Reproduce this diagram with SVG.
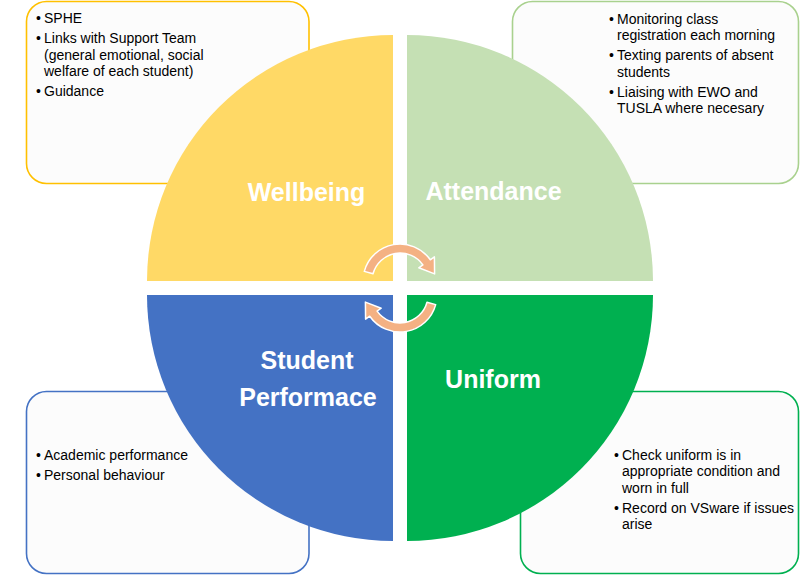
<svg xmlns="http://www.w3.org/2000/svg" width="800" height="575" viewBox="0 0 800 575">
<style>
.box{fill:#FCFCFC;stroke-width:1.6}
.t{font-family:"Liberation Sans",Arial,sans-serif;font-size:14px;fill:#000}
.lbl{font-family:"Liberation Sans",Arial,sans-serif;font-size:25px;font-weight:bold;fill:#FFFFFF;text-anchor:middle}
.arr{fill:#F4B183;stroke:#FFFFFF;stroke-width:1.5;stroke-linejoin:round}
</style>
<rect width="800" height="575" fill="#FFFFFF"/>
<g id="box-wellbeing">
<rect class="box" x="26.5" y="1.5" width="282.5" height="182" rx="20" stroke="#FFC000"/>
<text class="t"><tspan x="36" y="23">•</tspan><tspan x="44" y="23">SPHE</tspan></text>
<text class="t"><tspan x="36" y="43">•</tspan><tspan x="44" y="43">Links with Support Team</tspan><tspan x="44" y="59.5">(general emotional, social</tspan><tspan x="44" y="76">welfare of each student)</tspan></text>
<text class="t"><tspan x="36" y="96">•</tspan><tspan x="44" y="96">Guidance</tspan></text>
</g>
<g id="box-attendance">
<rect class="box" x="512.5" y="1.5" width="286" height="182" rx="20" stroke="#A9D18E"/>
<text class="t"><tspan x="609" y="23.5">•</tspan><tspan x="617" y="23.5">Monitoring class</tspan><tspan x="617" y="40">registration each morning</tspan></text>
<text class="t"><tspan x="609" y="60">•</tspan><tspan x="617" y="60">Texting parents of absent</tspan><tspan x="617" y="76.5">students</tspan></text>
<text class="t"><tspan x="609" y="96.5">•</tspan><tspan x="617" y="96.5">Liaising with EWO and</tspan><tspan x="617" y="113">TUSLA where necesary</tspan></text>
</g>
<g id="box-performance">
<rect class="box" x="26.5" y="391.5" width="282.5" height="182" rx="20" stroke="#4472C4"/>
<text class="t"><tspan x="36" y="460">•</tspan><tspan x="44" y="460">Academic performance</tspan></text>
<text class="t"><tspan x="36" y="480">•</tspan><tspan x="44" y="480">Personal behaviour</tspan></text>
</g>
<g id="box-uniform">
<rect class="box" x="520.5" y="391.5" width="278" height="182" rx="20" stroke="#00B050"/>
<text class="t"><tspan x="614" y="459.5">•</tspan><tspan x="622" y="459.5">Check uniform is in</tspan><tspan x="622" y="476">appropriate condition and</tspan><tspan x="622" y="492.5">worn in full</tspan></text>
<text class="t"><tspan x="614" y="512.5">•</tspan><tspan x="622" y="512.5">Record on VSware if issues</tspan><tspan x="622" y="529">arise</tspan></text>
</g>
<g id="wellbeing">
<path d="M393 281 L147 281 A246 246 0 0 1 393 35 Z" fill="#FFD966"/>
<text class="lbl" x="306.5" y="201">Wellbeing</text>
</g>
<g id="attendance">
<path d="M407 281 L407 35 A246 246 0 0 1 653 281 Z" fill="#C5E0B4"/>
<text class="lbl" x="493.5" y="200">Attendance</text>
</g>
<g id="student-performance">
<path d="M393 295 L393 541 A246 246 0 0 1 147 295 Z" fill="#4472C4"/>
<text class="lbl" x="307" y="369">Student</text>
<text class="lbl" x="308" y="406">Performace</text>
</g>
<g id="uniform">
<path d="M407 295 L653 295 A246 246 0 0 1 407 541 Z" fill="#00B050"/>
<text class="lbl" x="493" y="388">Uniform</text>
</g>
<g id="connectors">
<path id="arrow-top" class="arr" d="M364.3 271.4 A37 37 0 0 1 430.3 259.8 L434.4 256.9 L434.6 273.9 L418.8 267.8 L422.9 264.9 A28 28 0 0 0 373 273.8 Z"/>
<path id="arrow-bottom" class="arr" transform="rotate(180 400 288)" d="M364.3 271.4 A37 37 0 0 1 430.3 259.8 L434.4 256.9 L434.6 273.9 L418.8 267.8 L422.9 264.9 A28 28 0 0 0 373 273.8 Z"/>
</g>
</svg>
